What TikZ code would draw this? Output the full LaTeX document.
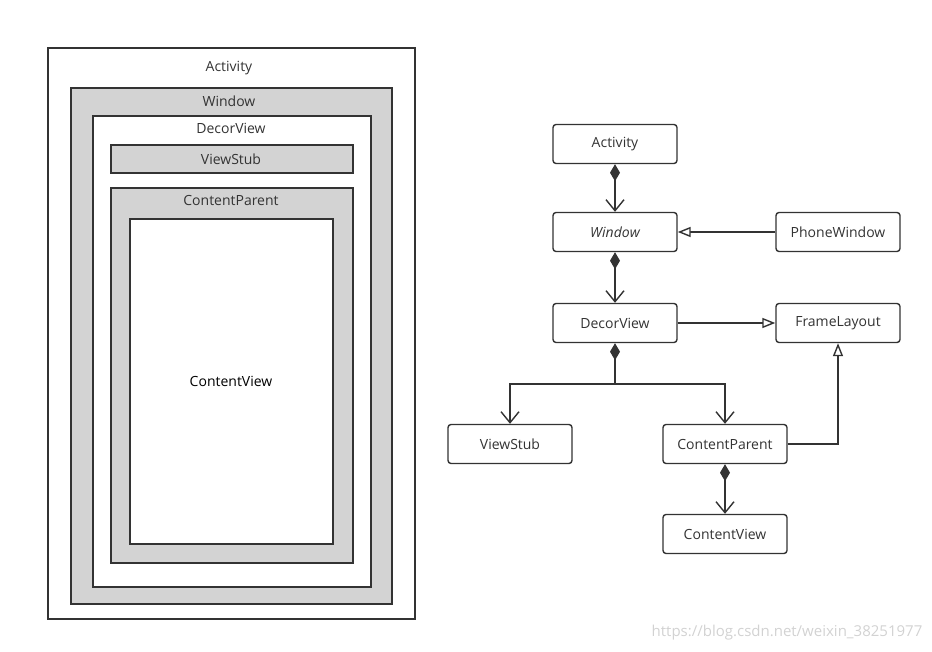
\documentclass[tikz,border=0pt]{standalone}
\usepackage{fontspec}
\setmainfont{Open Sans}
\usetikzlibrary{arrows.meta, positioning, calc}

\definecolor{linegray}{HTML}{333333}
\definecolor{boxgray}{HTML}{D3D3D3}

\tikzset{
    cls/.style={draw=linegray, line width=1.4pt, rounded corners=3pt, minimum width=124pt, minimum height=39pt, text=linegray, font=\fontsize{14}{16}\selectfont},
    layer/.style={draw=linegray, line width=1.4pt},
    lbl/.style={text=linegray, font=\fontsize{14}{16}\selectfont},
    comp/.style={line width=1.4pt, draw=linegray, {Diamond[length=17pt,width=10pt]}-{Straight Barb[length=11pt,width=18pt]}},
    owns/.style={line width=1.4pt, draw=linegray, -{Straight Barb[length=11pt,width=18pt]}},
    inherit/.style={line width=1.4pt, draw=linegray, -{Triangle[open,length=13pt,width=10pt,fill=white]}}
}

\begin{document}
\begin{tikzpicture}[x=1pt, y=-1pt]
    \useasboundingbox (0, 0) rectangle (932, 652);
    % nested layers
    \begin{scope}
        \draw[layer] (48, 48) rectangle (415, 619);
        \node[lbl] (lActivity) at (229, 68) {Activity};
        \draw[layer, fill=boxgray] (71, 88) rectangle (392, 604);
        \node[lbl] (lWindow) at (229, 101) {Window};
        \draw[layer, fill=white] (93, 116) rectangle (371, 587);
        \node[lbl] (lDecor) at (231, 128) {DecorView};
        \draw[layer, fill=boxgray] (111, 145) rectangle (353, 173);
        \node[lbl] (lStub) at (231, 159) {ViewStub};
        \draw[layer, fill=boxgray] (111, 188) rectangle (353, 563);
        \node[lbl] (lParent) at (231, 201) {ContentParent};
        \draw[layer, fill=white] (130, 219) rectangle (333, 544);
        \node[lbl, text=black] (lView) at (231, 381) {ContentView};
    \end{scope}
    % class diagram
    \node[cls] (activity) at (615, 144) {Activity};
    \node[cls] (window) at (615, 232) {\itshape Window};
    \node[cls] (phone) at (838, 232) {PhoneWindow};
    \node[cls] (decor) at (615, 323) {DecorView};
    \node[cls] (frame) at (838, 323) {FrameLayout};
    \node[cls] (stub) at (510, 444) {ViewStub};
    \node[cls] (cparent) at (725, 444) {ContentParent};
    \node[cls] (cview) at (725, 534) {ContentView};
    \coordinate (split) at (615, 384);
    \draw[comp] (activity) -- (window);
    \draw[comp] (window) -- (decor);
    \draw[inherit] (phone) -- (window);
    \draw[inherit] (decor) -- (frame);
    \draw[comp] (decor) -- (split) -| (stub);
    \draw[owns] (split) -| (cparent);
    \draw[inherit] (cparent) -| (frame);
    \draw[comp] (cparent) -- (cview);
    \node[text=gray!35, font=\fontsize{15}{17}\selectfont] (mark) at (787, 633) {https://blog.csdn.net/weixin\_38251977};
\end{tikzpicture}
\end{document}
